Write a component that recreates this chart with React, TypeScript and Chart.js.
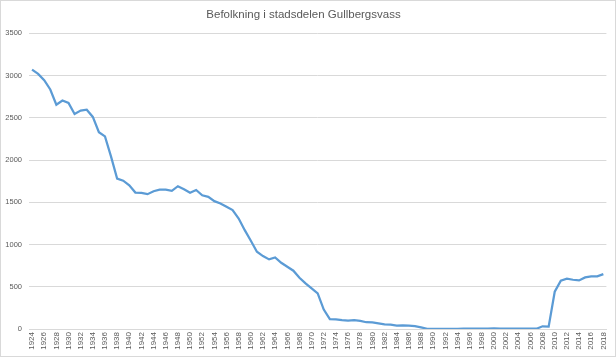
import React, { useEffect, useRef } from "react";
import { Chart, registerables } from "chart.js";

Chart.register(...registerables);

const title = "Befolkning i stadsdelen Gullbergsvass";
const startYear = 1924;
const endYear = 2018;
const years: string[] = [];
for (let y = startYear; y <= endYear; y++) years.push(String(y));

const population1924to1957 = [
  3070, 3020, 2945, 2835, 2655, 2705, 2675, 2545, 2585, 2595,
  2510, 2330, 2280, 2040, 1780, 1755, 1700, 1615, 1612, 1596,
  1630, 1650, 1650, 1635, 1690, 1655, 1612, 1645, 1582, 1564,
  1513, 1486, 1446, 1407,
];
const population1958to1989 = [
  1308, 1170, 1044, 914, 863, 824, 847, 784, 737, 690,
  607, 540, 481, 422, 230, 118, 115, 106, 100, 106,
  95, 80, 79, 67, 55, 51, 40, 43, 39, 35,
  20, 2,
];
const population1990to2007 = [
  2, 2, 2, 2, 2, 3, 3, 3, 4, 4, 6, 4, 3, 3, 3, 3, 3, 3,
];
const population2008to2018 = [32, 28, 441, 571, 595, 583, 575, 611, 623, 623, 650];

const population = [
  ...population1924to1957,
  ...population1958to1989,
  ...population1990to2007,
  ...population2008to2018,
];

const yMin = 0;
const yMax = 3500;
const yStep = 500;

const borderPlugin = {
  id: "outerBorder",
  beforeDraw(chart: any) {
    const ctx = chart.ctx;
    ctx.save();
    ctx.fillStyle = "#ffffff";
    ctx.fillRect(0, 0, chart.width, chart.height);
    ctx.strokeStyle = "#d9d9d9";
    ctx.lineWidth = 1;
    ctx.strokeRect(0.5, 0.5, chart.width - 1, chart.height - 1);
    ctx.restore();
  },
};

export default function App() {
  const ref = useRef<HTMLCanvasElement | null>(null);
  useEffect(() => {
    if (!ref.current) return;
    const chart = new Chart(ref.current, {
      type: "line",
      data: {
        labels: years,
        datasets: [
          {
            data: population,
            borderColor: "#5b9bd5",
            backgroundColor: "#5b9bd5",
            borderWidth: 2.25,
            pointRadius: 0,
            tension: 0,
            fill: false,
          },
        ],
      },
      options: {
        animation: false,
        responsive: false,
        maintainAspectRatio: false,
        layout: { padding: { left: 0, right: 9, top: 0, bottom: 0 } },
        plugins: {
          legend: { display: false },
          tooltip: { enabled: false },
          title: {
            display: true,
            text: title,
            color: "#595959",
            font: { family: "'Liberation Sans', Arial, sans-serif", size: 11.5, weight: "normal" },
            padding: { top: 8, bottom: 11.5 },
          },
        },
        scales: {
          x: {
            type: "category",
            offset: true,
            grid: { display: false, drawTicks: false },
            border: { display: true, color: "#d9d9d9", width: 1 },
            ticks: {
              autoSkip: false,
              minRotation: 90,
              maxRotation: 90,
              padding: 3,
              color: "#595959",
              font: { family: "'Liberation Sans', Arial, sans-serif", size: 8 },
              callback: (_v: any, i: number) => (i % 2 === 0 ? years[i] : ""),
            },
            afterFit: (scale: any) => {
              scale.height = 28;
            },
          },
          y: {
            min: yMin,
            max: yMax,
            grid: { color: "#d9d9d9", drawTicks: false, lineWidth: 1 },
            border: { display: false },
            ticks: {
              stepSize: yStep,
              padding: 7,
              color: "#595959",
              font: { family: "'Liberation Sans', Arial, sans-serif", size: 7.5 },
              callback: (v: any) => String(v),
            },
            afterFit: (scale: any) => {
              scale.width = 29;
            },
          },
        },
      },
      plugins: [borderPlugin],
    });
    return () => chart.destroy();
  }, []);
  return (
    <div style={{ position: "fixed", left: 0, top: 0, width: 616, height: 357 }}>
      <canvas ref={ref} width={616} height={357} style={{ width: 616, height: 357 }} />
    </div>
  );
}
